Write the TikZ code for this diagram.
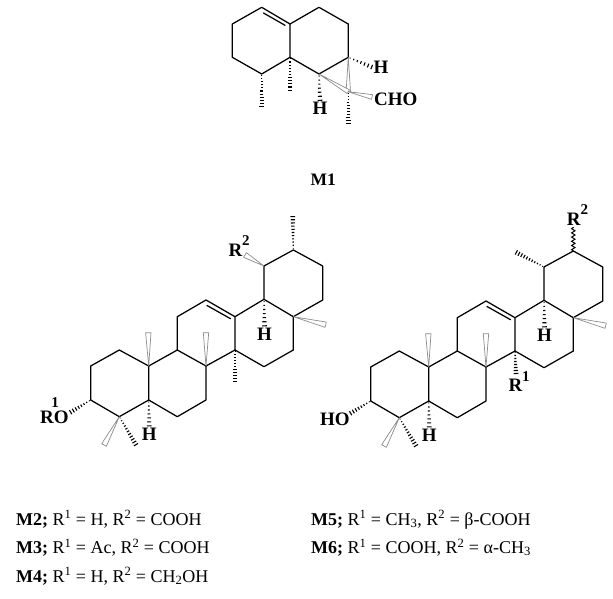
\documentclass[tikz,border=0pt]{standalone}
\usepackage{fontspec}
\setmainfont{Liberation Serif}
\usetikzlibrary{calc,decorations.pathmorphing}
\tikzset{
  bond/.style={line width=1.25pt,line join=round,line cap=round},
  hashline/.style={line width=1.1pt},
  wedgeline/.style={line width=0.7pt,draw=black!45,fill=white,line join=round},
  wavy/.style={line width=1pt,decorate,decoration={snake,amplitude=1.7pt,segment length=4.2pt}},
  atom/.style={font=\fontsize{19}{19}\selectfont\bfseries,inner sep=0pt,anchor=base west},
  caption/.style={font=\fontsize{18}{20}\selectfont,inner sep=0pt,anchor=base west}
}
\newcommand{\hashbond}[3]{
  \foreach \i in {1,...,#3}{
    \pgfmathsetmacro\t{(\i-0.5)/#3}
    \pgfmathsetmacro\w{0.3+2.2*\t}
    \draw[hashline] ($(#1)!\t!(#2)!\w pt!90:(#2)$) -- ($(#1)!\t!(#2)!-\w pt!90:(#2)$);
  }
}
\newcommand{\openwedge}[3]{
  \draw[wedgeline] (#1) -- ($(#2)!#3pt!90:(#1)$) -- ($(#2)!#3pt!-90:(#1)$) -- cycle;
}
\newcommand{\supnum}[2][0.55em]{\raisebox{#1}{\fontsize{15}{15}\selectfont #2}}

\begin{document}
\begin{tikzpicture}[x=1pt,y=-1pt]
\useasboundingbox (0,0) rectangle (613,599);

% M1
\coordinate (p1) at (261.7,7.3);
\coordinate (p2) at (290,24);
\coordinate (p3) at (290,57.3);
\coordinate (p4) at (261.7,74);
\coordinate (p5) at (232.3,57.3);
\coordinate (p6) at (232.3,24);
\coordinate (p7) at (319,7.3);
\coordinate (p8) at (348.3,24);
\coordinate (p9) at (348.3,57.3);
\coordinate (p10) at (319,74);
\coordinate (p11) at (348.3,91.7);
\coordinate (pd1) at (263.5,13);
\coordinate (pd2) at (285,25.3);
\coordinate (me1) at (261.7,108);
\coordinate (me2) at (290,91.7);
\coordinate (me3) at (348.3,125);
\coordinate (cho) at (372,97);
\node[atom] (h1) at (312.5,115) {H};
\node[atom] (h2) at (373.5,74) {H};
\node[atom] (ald) at (374,106) {CHO};
\node[atom,font=\fontsize{17.5}{20}\selectfont\bfseries] (m1) at (310.5,185) {M1};

\draw[bond] (p1)--(p2)--(p3)--(p4)--(p5)--(p6)--cycle;
\draw[bond] (p2)--(p7)--(p8)--(p9)--(p10)--(p3);
\draw[bond] (pd1)--(pd2);
\hashbond{p4}{me1}{11}
\hashbond{p3}{me2}{11}
\hashbond{p10}{h1.north}{7}
\hashbond{p9}{h2.west}{7}
\hashbond{p11}{me3}{11}
\openwedge{p9}{p11}{2.2}
\openwedge{p10}{p11}{2.2}
\openwedge{p11}{cho}{2.4}

% M2 and M5 share one skeleton
\foreach \molname/\dx/\dy in {two/0/0,five/280/1}{
\begin{scope}[shift={(\dx,\dy)},name prefix=\molname-]
\coordinate (c1) at (119.3,350);
\coordinate (c2) at (90.7,366);
\coordinate (c3) at (90.7,400);
\coordinate (c4) at (119.3,416.7);
\coordinate (c5) at (148.7,400);
\coordinate (c6) at (177.3,416.7);
\coordinate (c7) at (206,400);
\coordinate (c8) at (206,366);
\coordinate (c9) at (177.3,350);
\coordinate (c10) at (148.7,366);
\coordinate (c11) at (177.3,316.7);
\coordinate (c12) at (206,300);
\coordinate (c13) at (235,316.7);
\coordinate (c14) at (235,350);
\coordinate (c15) at (264,366.7);
\coordinate (c16) at (293.3,350);
\coordinate (c17) at (293.3,316.7);
\coordinate (c18) at (264,299.3);
\coordinate (c19) at (264,266);
\coordinate (c20) at (293.3,250);
\coordinate (c21) at (322.7,266);
\coordinate (c22) at (322.7,300);
\coordinate (d1) at (207,305.5);
\coordinate (d2) at (230.5,318.7);
\coordinate (w10) at (148.3,332.7);
\coordinate (w8) at (206,332.7);
\coordinate (w17) at (325.7,324.7);
\coordinate (w4) at (104,445);
\coordinate (me4) at (136.7,446);
\coordinate (ox3) at (69.3,413);
\node[atom] (h5) at (141.7,440.5) {H};
\node[atom] (h18) at (257,340.5) {H};

\draw[bond] (c1)--(c2)--(c3)--(c4)--(c5)--(c10)--cycle;
\draw[bond] (c5)--(c6)--(c7)--(c8)--(c9)--(c10);
\draw[bond] (c9)--(c11)--(c12)--(c13)--(c14)--(c8);
\draw[bond] (c13)--(c18)--(c17)--(c16)--(c15)--(c14);
\draw[bond] (c18)--(c19)--(c20)--(c21)--(c22)--(c17);
\draw[bond] (d1)--(d2);
\openwedge{c10}{w10}{2.7}
\openwedge{c8}{w8}{2.7}
\openwedge{c17}{w17}{2.7}
\openwedge{c4}{w4}{2.7}
\hashbond{c5}{h5.north}{7}
\hashbond{c18}{h18.north}{7}
\hashbond{c4}{me4}{11}
\hashbond{c3}{ox3}{8}
\end{scope}
}

% M2 substituents
\coordinate (two-w19) at (245,255);
\coordinate (two-me20) at (292.7,215);
\coordinate (two-me14) at (235,383.3);
\node[atom] (two-ro) at (40,423.3) {R\rlap{\kern-2.5pt\supnum[0.82em]{1}}O};
\node[atom] (two-r2) at (228.3,256.7) {R\supnum[0.6em]{2}};
\openwedge{two-c19}{two-w19}{2.7}
\hashbond{two-c20}{two-me20}{11}
\hashbond{two-c14}{two-me14}{11}

% M5 substituents
\coordinate (five-me19) at (515,251.7);
\coordinate (five-wig) at (573.3,227);
\coordinate (five-me14) at (516,375);
\node[atom] (five-ho) at (320,425) {HO};
\node[atom] (five-r1) at (508.3,391.7) {R\supnum{1}};
\node[atom] (five-r2) at (566.7,225) {R\supnum{2}};
\hashbond{five-c14}{five-me14}{8}
\hashbond{five-c19}{five-me19}{11}
\draw[wavy] (five-c20)--(five-wig);

% captions
\node[caption] (cap2) at (16,525) {\textbf{M2;} R\textsuperscript{1} = H, R\textsuperscript{2} = COOH};
\node[caption] (cap3) at (16,553.3) {\textbf{M3;} R\textsuperscript{1} = Ac, R\textsuperscript{2} = COOH};
\node[caption] (cap4) at (16,582) {\textbf{M4;} R\textsuperscript{1} = H, R\textsuperscript{2} = CH\textsubscript{2}OH};
\node[caption] (cap5) at (311,525) {\textbf{M5;} R\textsuperscript{1} = CH\textsubscript{3}, R\textsuperscript{2} = β-COOH};
\node[caption] (cap6) at (311,553.3) {\textbf{M6;} R\textsuperscript{1} = COOH, R\textsuperscript{2} = α-CH\textsubscript{3}};
\end{tikzpicture}
\end{document}
